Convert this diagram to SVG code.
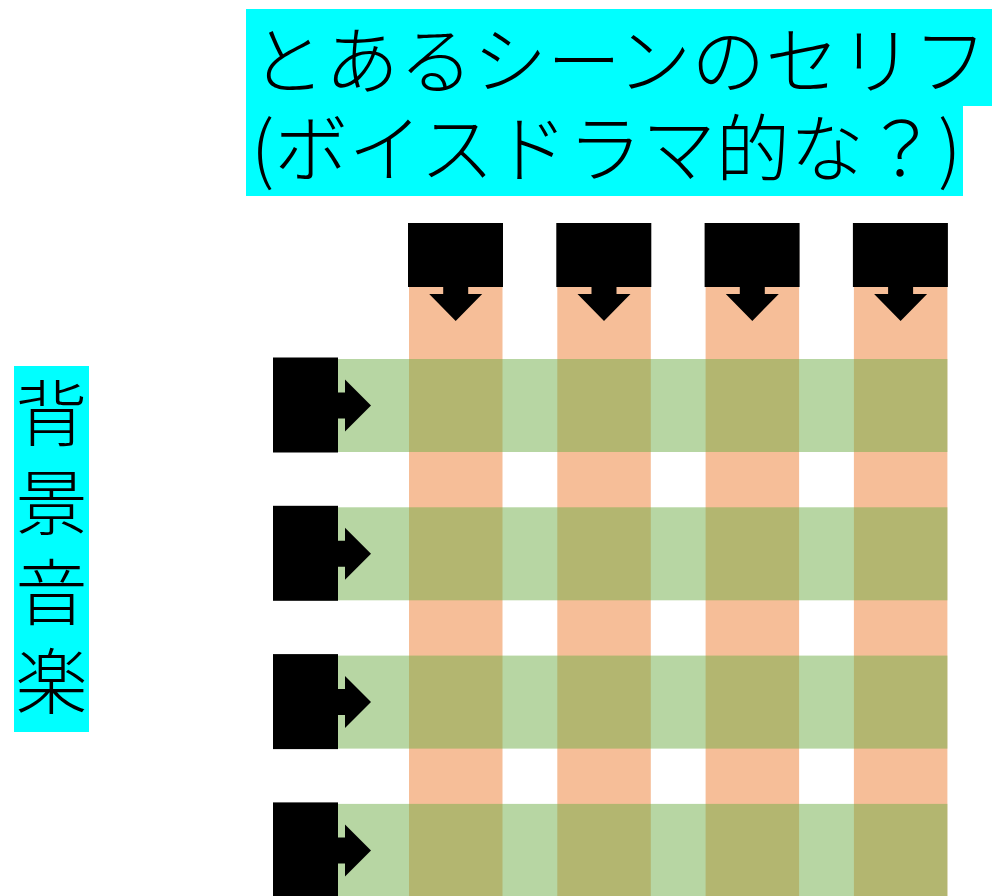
<svg xmlns="http://www.w3.org/2000/svg" width="992" height="896" viewBox="0 0 992 896">
<style>
.t{font-family:"Noto Sans CJK JP","Noto Sans CJK SC",sans-serif;fill:#000;font-weight:300}
.col{fill:#ED7D31;fill-opacity:.5}
.row{fill:#70AD47;fill-opacity:.5}
.blk{fill:#000}
</style>
<defs>
<path id="adown" d="M-12.5,-1 H12.5 V7 H26.5 L0,34 L-26.5,7 H-12.5 Z"/>
<path id="aright" d="M-1,-13 V13 H7 V26 L33,0 L7,-26 V-13 Z"/>
</defs>
<rect width="992" height="896" fill="#fff"/>
<g id="title">
<rect x="246" y="9" width="746" height="97" fill="#00FFFF"/>
<rect x="246" y="106" width="717" height="90" fill="#00FFFF"/>
<text class="t" x="251" y="88" font-size="74">とあるシーンのセリフ</text>
<text class="t" x="251" y="176" font-size="74">(ボイスドラマ的な？)</text>
</g>
<g id="label-bgm">
<rect x="14" y="366" width="75" height="366" fill="#00FFFF"/>
<g class="t" font-size="72" text-anchor="middle">
<text x="51.5" y="440">背</text>
<text x="51.5" y="529">景</text>
<text x="51.5" y="619">音</text>
<text x="51.5" y="708">楽</text>
</g>
</g>
<g id="bands">
<rect class="col" x="409" y="250" width="93.5" height="646"/>
<rect class="col" x="557.3" y="250" width="93.5" height="646"/>
<rect class="col" x="705.6" y="250" width="93.5" height="646"/>
<rect class="col" x="853.9" y="250" width="93.5" height="646"/>
<rect class="row" x="320" y="359" width="627.4" height="93"/>
<rect class="row" x="320" y="507.3" width="627.4" height="93"/>
<rect class="row" x="320" y="655.6" width="627.4" height="93"/>
<rect class="row" x="320" y="803.9" width="627.4" height="93"/>
</g>
<g id="node-top-1"><rect class="blk" x="408" y="223" width="95" height="64"/><use href="#adown" x="455.7" y="287"/></g>
<g id="node-top-2"><rect class="blk" x="556.3" y="223" width="95" height="64"/><use href="#adown" x="604" y="287"/></g>
<g id="node-top-3"><rect class="blk" x="704.6" y="223" width="95" height="64"/><use href="#adown" x="752.3" y="287"/></g>
<g id="node-top-4"><rect class="blk" x="852.9" y="223" width="95" height="64"/><use href="#adown" x="900.6" y="287"/></g>
<g id="node-left-1"><rect class="blk" x="273" y="357.5" width="65" height="95"/><use href="#aright" x="338" y="405.5"/></g>
<g id="node-left-2"><rect class="blk" x="273" y="505.8" width="65" height="95"/><use href="#aright" x="338" y="553.8"/></g>
<g id="node-left-3"><rect class="blk" x="273" y="654.1" width="65" height="95"/><use href="#aright" x="338" y="702.1"/></g>
<g id="node-left-4"><rect class="blk" x="273" y="802.4" width="65" height="95"/><use href="#aright" x="338" y="850.4"/></g>
</svg>
